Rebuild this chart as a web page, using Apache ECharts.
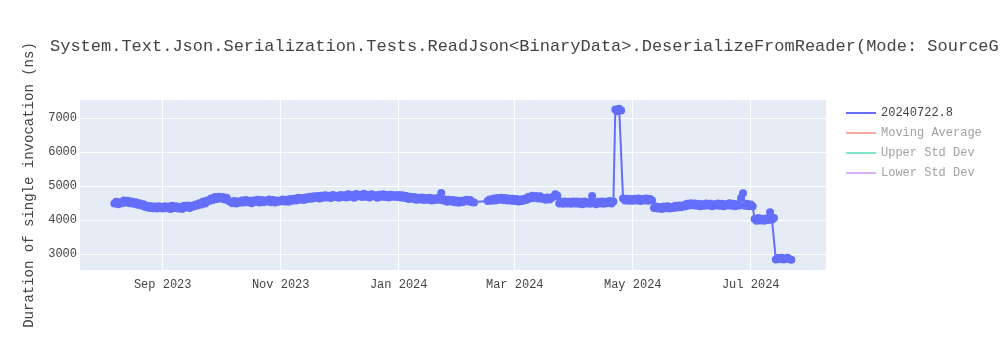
<!DOCTYPE html>
<html>
<head>
<meta charset="utf-8">
<script src="https://cdn.jsdelivr.net/npm/echarts@6/dist/echarts.min.js"></script>
<style>
  html, body { margin: 0; padding: 0; background: #fff; }
  #chart { width: 1000px; height: 350px; }
</style>
</head>
<body>
<div id="chart"></div>
<script>
// ---- Data (daily values, index 0 = startDate) ----
const startDate = '2023-08-07';
const aug23 = [4490,4540,4470,4530,4500,4580,4520,4570,4500,4550,4480,4530,4450,4500,4430,4470,4390,4420,4360,4410,4350,4400,4340,4410,4360];
const sep23 = [4340,4410,4350,4400,4330,4420,4360,4410,4340,4390,4330,4420,4370,4430,4360,4420,4400,4460,4430,4500,4460,4550,4490,4580,4560,4640,4590,4680,4620,4690];
const oct23 = [4640,4680,4610,4660,4570,4540,4500,4560,4490,4550,4510,4580,4520,4590,4530,4570,4500,4580,4540,4600,4520,4590,4530,4580,4550,4610,4530,4590,4520,4580,4540];
const nov23 = [4560,4610,4550,4600,4540,4620,4570,4630,4580,4660,4600,4650,4590,4670,4620,4690,4630,4700,4650,4710,4640,4720,4660,4730,4670,4720,4650,4740,4680,4720];
const dec23 = [4660,4740,4680,4730,4670,4760,4690,4740,4660,4770,4700,4750,4680,4780,4690,4740,4670,4760,4700,4730,4660,4750,4690,4760,4680,4740,4670,4750,4690,4730,4680];
const jan24 = [4740,4670,4730,4650,4710,4620,4690,4630,4680,4600,4660,4610,4670,4590,4650,4600,4660,4580,4640,4590,4650,4600,4800,4580,4610,4540,4600,4550,4590,4530,4580];
const feb24 = [4510,4570,4530,4580,4600,4550,4590,4530,4520,null,null,null,null,null,null,4560,4610,4570,4640,4580,4650,4600,4660,4590,4650,4580,4640,4570,4630];
const mar24 = [4560,4620,4550,4610,4560,4630,4590,4680,4640,4720,4650,4710,4640,4700,4630,4660,4600,4670,4610,4660,4690,4760,4720,4490,4540,4480,4550,4490,4540,4480,4550];
const apr24 = [4490,4550,4480,4540,4470,4550,4490,4530,4480,4710,4520,4470,4540,4490,4550,4480,4540,4500,4560,4490,4550,7260,7210,7280,7230,4640,4580,4630,4570,4620];
const may24 = [4570,4630,4580,4640,4560,4620,4580,4640,4570,4620,4580,4360,4400,4340,4390,4330,4400,4350,4410,4340,4390,4360,4420,4370,4430,4380,4440,4400,4480,4430,4500];
const jun24 = [4440,4490,4420,4480,4410,4470,4420,4490,4430,4480,4410,4470,4430,4490,4420,4480,4410,4470,4430,4500,4420,4480,4410,4470,4430,4650,4790,4420,4480,4410];
const jul24 = [4460,4410,4030,3980,4060,3990,4040,3980,4050,4000,4230,4010,4060,2840,2880,2850,2890,2840,2870,2890,2850,2830];

const seriesNames = ['20240722.8', 'Moving Average', 'Upper Std Dev', 'Lower Std Dev'];
const xTickDates = ['2023-09-01', '2023-11-01', '2024-01-01', '2024-03-01', '2024-05-01', '2024-07-01'];
const yTickValues = [3000, 4000, 5000, 6000, 7000];
const monthNames = ['Jan','Feb','Mar','Apr','May','Jun','Jul','Aug','Sep','Oct','Nov','Dec'];

// ---- Build ----
const values = [].concat(aug23, sep23, oct23, nov23, dec23, jan24, feb24, mar24, apr24, may24, jun24, jul24);
const t0 = new Date(startDate + 'T00:00:00').getTime();
const DAY = 86400000;
const mainData = values.map((v, i) => [t0 + i * DAY, v]);
const xTicks = xTickDates.map(d => new Date(d + 'T00:00:00').getTime());

const FONT = '"Courier New", "Liberation Mono", monospace';
const chart = echarts.init(document.getElementById('chart'), null, { renderer: 'canvas' });

chart.setOption({
  animation: false,
  backgroundColor: '#ffffff',
  title: {
    text: 'System.Text.Json.Serialization.Tests.ReadJson<BinaryData>.DeserializeFromReader(Mode: SourceGen)',
    left: 45,
    top: 33,
    textStyle: { fontFamily: FONT, fontSize: 17, fontWeight: 'normal', color: '#444444' }
  },
  legend: {
    orient: 'vertical',
    left: 841,
    top: 101,
    icon: 'rect',
    itemWidth: 30,
    itemHeight: 2,
    itemGap: 6,
    textStyle: { fontFamily: FONT, fontSize: 12, color: '#444444', lineHeight: 14 },
    data: [
      { name: seriesNames[0] },
      { name: seriesNames[1], textStyle: { color: '#a2a2a2' } },
      { name: seriesNames[2], textStyle: { color: '#a2a2a2' } },
      { name: seriesNames[3], textStyle: { color: '#a2a2a2' } }
    ]
  },
  grid: {
    left: 80, right: 174, top: 100, bottom: 80,
    show: true, backgroundColor: '#e5ecf6', borderWidth: 0
  },
  xAxis: {
    type: 'value',
    scale: true,
    min: new Date('2023-07-20T05:45:00').getTime(),
    max: new Date('2024-08-08T22:00:00').getTime(),
    axisLine: { show: false },
    axisTick: { show: false, customValues: xTicks },
    axisLabel: {
      customValues: xTicks,
      margin: 9,
      fontFamily: FONT, fontSize: 12, color: '#444444',
      formatter: v => { const d = new Date(v); return monthNames[d.getMonth()] + ' ' + d.getFullYear(); }
    },
    splitLine: { show: true, lineStyle: { color: '#ffffff', width: 1 } }
  },
  yAxis: {
    type: 'value',
    min: 2530,
    max: 7540,
    name: 'Duration of single invocation (ns)',
    nameLocation: 'middle',
    nameRotate: 90,
    nameGap: 44,
    nameTextStyle: { fontFamily: FONT, fontSize: 14, color: '#444444' },
    axisLine: { show: false },
    axisTick: { show: false, customValues: yTickValues },
    axisLabel: {
      customValues: yTickValues, margin: 3,
      fontFamily: FONT, fontSize: 12, color: '#444444',
      formatter: v => String(v)
    },
    splitLine: { show: true, lineStyle: { color: '#ffffff', width: 1 } }
  },
  series: [
    {
      name: seriesNames[0],
      type: 'line',
      data: mainData,
      connectNulls: true,
      color: '#636efa',
      symbol: 'circle',
      symbolSize: 8,
      showAllSymbol: true,
      lineStyle: { width: 2, color: '#636efa' },
      itemStyle: { color: '#636efa' }
    },
    { name: seriesNames[1], type: 'line', data: [], color: '#f7aa9d' },
    { name: seriesNames[2], type: 'line', data: [], color: '#80e5cb' },
    { name: seriesNames[3], type: 'line', data: [], color: '#d5b1fc' }
  ]
});
</script>
</body>
</html>
